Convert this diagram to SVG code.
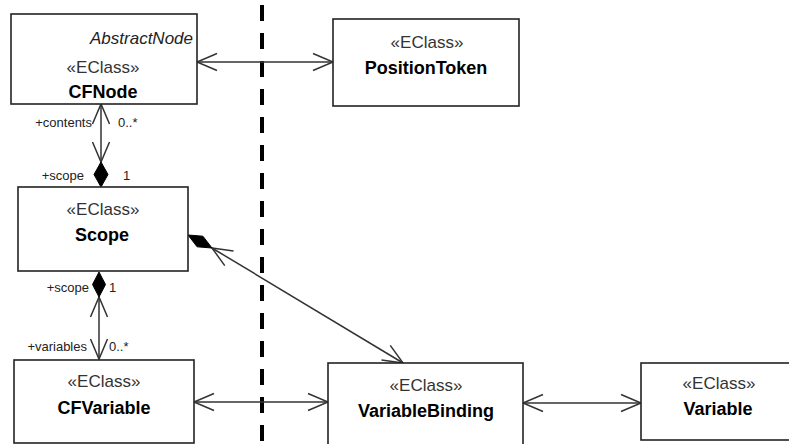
<svg xmlns="http://www.w3.org/2000/svg" width="789" height="444" viewBox="0 0 789 444">
<style>
.box{fill:#fff;stroke:#222;stroke-width:1.6}
.st{font-family:"Liberation Sans",Arial,sans-serif;font-size:17px;fill:#333;text-anchor:middle}
.nm{font-family:"Liberation Sans",Arial,sans-serif;font-size:18px;font-weight:bold;fill:#000;text-anchor:middle}
.ab{font-family:"Liberation Sans",Arial,sans-serif;font-size:17px;font-style:italic;fill:#222;text-anchor:end}
.lb{font-family:"Liberation Sans",Arial,sans-serif;font-size:13px;fill:#222}
.cn{fill:none;stroke:#333;stroke-width:1.5;marker-start:url(#arr);marker-end:url(#arr)}
.dm{fill:#000;stroke:#000;stroke-width:1}
</style>
<defs>
<marker id="arr" viewBox="-22 -11 24 22" markerWidth="24" markerHeight="22" refX="0" refY="0" markerUnits="userSpaceOnUse" orient="auto-start-reverse" overflow="visible">
<path d="M-20,-8.5 L0,0 L-20,8.5" fill="none" stroke="#333" stroke-width="1.5"/>
</marker>
</defs>
<rect width="789" height="444" fill="#fff"/>
<line x1="262" y1="5" x2="262" y2="444" stroke="#000" stroke-width="4" stroke-dasharray="16 12"/>
<g id="connectors">
<line class="cn" x1="197" y1="62" x2="333" y2="62"/>
<line class="cn" x1="101" y1="104" x2="101" y2="162"/>
<polygon class="dm" points="101,162 108,174.5 101,187 94,174.5"/>
<line class="cn" x1="99" y1="297" x2="99" y2="359"/>
<polygon class="dm" points="99,272 105.5,284.5 99,297 92.5,284.5"/>
<line class="cn" x1="212" y1="248" x2="403" y2="363"/>
<polygon class="dm" points="188,235 197.1,246.8 212,248 202.9,236.2"/>
<line class="cn" x1="194" y1="402" x2="328" y2="402"/>
<line class="cn" x1="523" y1="403" x2="641" y2="403"/>
<text class="lb" x="92" y="127" text-anchor="end">+contents</text>
<text class="lb" x="118" y="127">0..*</text>
<text class="lb" x="84" y="180" text-anchor="end">+scope</text>
<text class="lb" x="123" y="180">1</text>
<text class="lb" x="89" y="292" text-anchor="end">+scope</text>
<text class="lb" x="109" y="292">1</text>
<text class="lb" x="87" y="351" text-anchor="end">+variables</text>
<text class="lb" x="109" y="351">0..*</text>
</g>
<g id="CFNode">
<rect class="box" x="11" y="14" width="186" height="90"/>
<text class="ab" x="193" y="44">AbstractNode</text>
<text class="st" x="103" y="73">«EClass»</text>
<text class="nm" x="103" y="98">CFNode</text>
</g>
<g id="PositionToken">
<rect class="box" x="333" y="19" width="186" height="87"/>
<text class="st" x="427" y="48">«EClass»</text>
<text class="nm" x="426" y="74">PositionToken</text>
</g>
<g id="Scope">
<rect class="box" x="18" y="187" width="170" height="84"/>
<text class="st" x="103" y="215">«EClass»</text>
<text class="nm" x="102" y="241">Scope</text>
</g>
<g id="CFVariable">
<rect class="box" x="14" y="360" width="180" height="83"/>
<text class="st" x="104" y="387">«EClass»</text>
<text class="nm" x="104" y="414">CFVariable</text>
</g>
<g id="VariableBinding">
<rect class="box" x="328" y="363" width="195" height="90"/>
<text class="st" x="426" y="391">«EClass»</text>
<text class="nm" x="426" y="417">VariableBinding</text>
</g>
<g id="Variable">
<rect class="box" x="641" y="363" width="149" height="77"/>
<text class="st" x="719" y="389">«EClass»</text>
<text class="nm" x="718" y="415">Variable</text>
</g>
</svg>
